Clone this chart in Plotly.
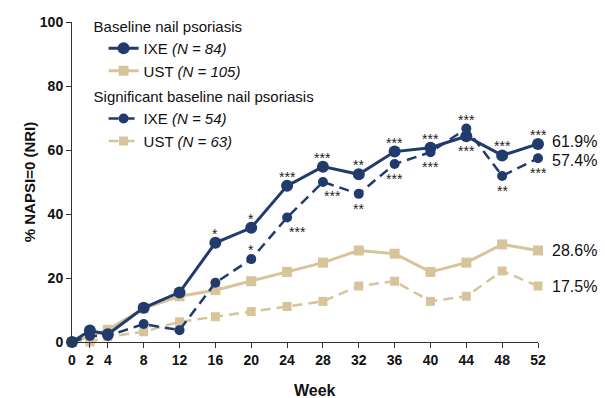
import plotly.graph_objects as go

weeks = [0, 2, 4, 8, 12, 16, 20, 24, 28, 32, 36, 40, 44, 48, 52]
ixe_base = [0, 3.6, 2.4, 10.7, 15.5, 31.0, 35.7, 48.8, 54.8, 52.4, 59.5, 60.7, 64.3, 58.3, 61.9]
ust_base = [0, 1.9, 3.8, 10.5, 14.3, 16.2, 19.0, 21.9, 24.8, 28.6, 27.6, 21.9, 24.8, 30.5, 28.6]
ixe_sig = [0, 1.9, 1.9, 5.6, 3.7, 18.5, 25.9, 38.9, 50.0, 46.3, 55.6, 59.3, 66.7, 51.9, 57.4]
ust_sig = [0, 0, 1.6, 3.2, 6.3, 7.9, 9.5, 11.1, 12.7, 17.5, 19.0, 12.7, 14.3, 22.2, 17.5]

# significance markers: (text, position) per week
ixe_base_stars = ["", "", "", "", "", "*", "*", "***", "***", "**", "***", "***", "***", "***", "***"]
ixe_base_pos = ["", "", "", "", "", "a", "a", "a", "a", "a", "a", "a", "b", "a", "a"]
ixe_sig_stars = ["", "", "", "", "", "", "*", "***", "***", "**", "***", "***", "***", "**", "***"]
ixe_sig_pos = ["", "", "", "", "", "", "a", "br", "br", "b", "b", "b", "a", "b", "b"]

end_labels = ["61.9%", "57.4%", "28.6%", "17.5%"]
end_shifts = [2, -2, 0, 0]

NAVY = "#213B6C"
TAN = "#D8C49A"
FONT = "Arial, Liberation Sans, sans-serif"

fig = go.Figure()

fig.add_trace(go.Scatter(
    x=weeks, y=ust_sig, mode="lines+markers", name="UST <i>(N = 63)</i>",
    line=dict(color=TAN, width=2.5, dash="10px,6px"),
    marker=dict(symbol="square", size=9, color=TAN),
    legend="legend2", legendrank=2, cliponaxis=False))
fig.add_trace(go.Scatter(
    x=weeks, y=ust_base, mode="lines+markers", name="UST <i>(N = 105)</i>",
    line=dict(color=TAN, width=3),
    marker=dict(symbol="square", size=10, color=TAN),
    legend="legend", legendrank=2, cliponaxis=False))
fig.add_trace(go.Scatter(
    x=weeks, y=ixe_sig, mode="lines+markers", name="IXE <i>(N = 54)</i>",
    line=dict(color=NAVY, width=2.5, dash="10px,6px"),
    marker=dict(symbol="circle", size=10, color=NAVY),
    legend="legend2", legendrank=1, cliponaxis=False))
fig.add_trace(go.Scatter(
    x=weeks, y=ixe_base, mode="lines+markers", name="IXE <i>(N = 84)</i>",
    line=dict(color=NAVY, width=3),
    marker=dict(symbol="circle", size=12, color=NAVY),
    legend="legend", legendrank=1, cliponaxis=False))

shifts = {"a": (0, 9), "b": (0, -15), "br": (10, -14)}

def add_stars(ys, stars, pos):
    for w, y, s, p in zip(weeks, ys, stars, pos):
        if not s:
            continue
        xs, yss = shifts[p]
        fig.add_annotation(x=w, y=y, text=s, showarrow=False, xshift=xs, yshift=yss,
                           yanchor="middle", font=dict(size=14, color="#222222", family=FONT))

add_stars(ixe_base, ixe_base_stars, ixe_base_pos)
add_stars(ixe_sig, ixe_sig_stars, ixe_sig_pos)

for ys, lab, sh in zip([ixe_base, ixe_sig, ust_base, ust_sig], end_labels, end_shifts):
    fig.add_annotation(x=weeks[-1], y=ys[-1], text=lab, showarrow=False, xanchor="left",
                       xshift=12, yshift=sh, font=dict(size=16, color="#111111", family=FONT))

# x-axis title
fig.add_annotation(xref="paper", yref="paper", x=0.521, y=0, yshift=-48, yanchor="middle",
                   text="<b>Week</b>", showarrow=False,
                   font=dict(size=16, family=FONT, color="#111111"))

legend_common = dict(xanchor="left", yanchor="top", traceorder="normal",
                     font=dict(size=15, family=FONT, color="#111111"),
                     bgcolor="rgba(0,0,0,0)", itemwidth=30, indentation=12)

fig.update_layout(
    width=605, height=398,
    margin=dict(l=72, r=67, t=18, b=56),
    paper_bgcolor="white", plot_bgcolor="white",
    font=dict(family=FONT, color="#111111"),
    showlegend=True,
    legend=dict(x=0.042, y=1.03,
                title=dict(text="Baseline nail psoriasis", side="top",
                           font=dict(size=15, family=FONT, color="#111111")),
                **legend_common),
    legend2=dict(x=0.042, y=0.81,
                 title=dict(text="Significant baseline nail psoriasis", side="top",
                            font=dict(size=15, family=FONT, color="#111111")),
                 **legend_common),
    xaxis=dict(range=[0, 52], tickvals=weeks, ticks="outside", ticklen=5, tickcolor="#333333",
               showline=True, linecolor="#333333", linewidth=1, showgrid=False, zeroline=False,
               automargin=False,
               tickfont=dict(size=14, family=FONT, color="#111111", weight="bold")),
    yaxis=dict(range=[0, 100], tickvals=[0, 20, 40, 60, 80, 100], ticks="outside", ticklen=5,
               tickcolor="#333333", showline=True, linecolor="#333333", linewidth=1,
               showgrid=False, zeroline=False, automargin=False,
               tickfont=dict(size=14, family=FONT, color="#111111", weight="bold"),
               title=dict(text="<b>% NAPSI=0 (NRI)</b>", font=dict(size=15, family=FONT), standoff=0)),
)

fig.write_html("out.html")
